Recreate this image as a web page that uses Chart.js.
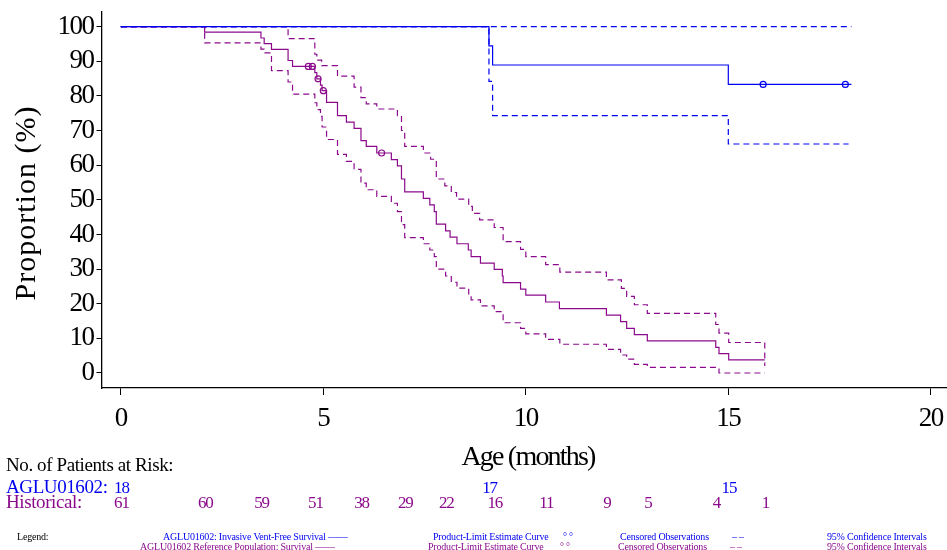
<!DOCTYPE html>
<html>
<head>
<meta charset="utf-8">
<script src="https://cdn.jsdelivr.net/npm/chart.js@4/dist/chart.umd.min.js"></script>
<style>
html,body{margin:0;padding:0;background:#fff;}
#wrap{width:947px;height:550px;}
</style>
</head>
<body>
<div id="wrap"><canvas id="km" width="947" height="550"></canvas></div>
<script>
// ---- data ----
const xTicks = [0, 5, 10, 15, 20];
const yTicks = [0, 10, 20, 30, 40, 50, 60, 70, 80, 90, 100];

// AGLU01602 (blue)
const aguTime = [0, 9.09, 9.18, 15.0, 18.04];
const aguSurv = [100, 94.4, 88.9, 83.3, 83.3];
const aguUpTime = [0, 18.04];
const aguUp = [100, 100];
const aguLoTime = [0, 9.09, 9.18, 15.0, 17.97];
const aguLo = [100, 84.2, 74.3, 66.1, 66.1];
const aguCensTime = [15.86, 17.89];
const aguCensSurv = [83.3, 83.3];

// Historical (purple)
const histTime = [0, 2.07, 3.46, 3.54, 3.72, 4.13, 4.24, 4.79, 4.84, 4.93, 4.97, 5.08, 5.35, 5.57, 5.76, 5.93,
    6.06, 6.32, 6.68, 6.83, 6.93, 7.01, 7.47, 7.63, 7.74, 7.79, 8.02, 8.13, 8.30, 8.58, 8.65, 8.88, 9.22, 9.42,
    9.44, 9.87, 10.0, 10.49, 10.83, 11.99, 12.34, 12.49, 12.68, 13.0, 14.69, 14.77, 15.01, 15.9];
const histSurv = [100, 98.4, 96.7, 95.1, 93.4, 90.2, 88.5, 86.7, 84.9, 83.1, 81.5, 78.1, 74.3, 72.4, 70.6, 67.1,
    65.4, 63.5, 61.6, 59.8, 56.0, 52.3, 50.4, 48.5, 46.6, 43.0, 41.0, 39.2, 37.3, 35.5, 33.6, 31.7, 29.9, 28.0,
    26.1, 24.2, 22.5, 20.5, 18.6, 16.7, 14.8, 12.9, 11.1, 9.3, 7.4, 5.6, 3.8, 3.8];
const histUpTime = [0, 4.13, 4.79, 4.84, 4.96, 5.35, 5.76, 5.93, 6.06, 6.32, 6.83, 6.93, 7.01, 7.47, 7.65, 7.79,
    8.0, 8.16, 8.29, 8.59, 8.68, 8.86, 9.22, 9.44, 9.87, 10.0, 10.49, 10.84, 11.99, 12.36, 12.49, 12.68, 13.0,
    14.69, 14.77, 15.01, 15.9, 15.9];
const histUp = [100, 96.5, 92.0, 90.3, 88.7, 85.7, 82.5, 79.5, 77.7, 76.2, 74.3, 70.0, 65.4, 63.5, 61.7, 56.0,
    54.0, 52.1, 50.2, 48.1, 46.1, 44.2, 42.0, 37.9, 35.7, 33.6, 31.3, 29.1, 26.9, 24.4, 22.1, 19.7, 17.2,
    14.0, 11.5, 8.8, 8.8, 2.0];
const histLoTime = [0, 2.07, 3.46, 3.54, 3.72, 4.13, 4.24, 4.79, 4.84, 4.93, 4.97, 5.08, 5.35, 5.57, 5.76, 5.93,
    6.06, 6.32, 6.68, 6.83, 6.93, 7.01, 7.47, 7.63, 7.74, 7.79, 8.02, 8.16, 8.30, 8.59, 8.65, 8.88, 9.22, 9.44,
    9.87, 10.0, 10.49, 10.84, 11.99, 12.34, 12.49, 12.68, 13.0, 14.77, 15.9];
const histLo = [100, 95.3, 93.5, 92.4, 87.3, 84.0, 80.5, 78.0, 76.0, 74.1, 71.0, 67.4, 63.1, 61.1, 58.8, 54.8,
    52.9, 51.0, 49.0, 46.6, 42.8, 39.1, 37.3, 35.5, 33.6, 30.0, 28.0, 26.2, 24.5, 22.8, 21.1, 19.4, 17.7, 14.5,
    12.9, 11.3, 9.7, 8.3, 6.8, 5.2, 4.0, 2.5, 1.6, 0, 0];
const histCensTime = [4.63, 4.73, 4.87, 5.0, 6.44];
const histCensSurv = [88.5, 88.5, 84.9, 81.5, 63.5];

// patients at risk
const aguRiskTime = [0, 9.09, 15.0];
const aguRisk = [18, 17, 15];
const histRiskTime = [0, 2.07, 3.46, 4.79, 5.93, 7.01, 8.02, 9.22, 10.49, 11.99, 13.0, 14.69, 15.9];
const histRisk = [61, 60, 59, 51, 38, 29, 22, 16, 11, 9, 5, 4, 1];

const BLUE = '#0000f0';
const PURPLE = '#8b0a8b';
const SERIF = '"Liberation Serif", "Times New Roman", serif';

function pts(xs, ys){
    return xs.map((x, i) => ({x: x, y: ys[i]}));
}

function stepLine(xs, ys, color, dashed){
    return {
        type: 'line',
        data: pts(xs, ys),
        borderColor: color,
        borderWidth: 1.2,
        borderDash: dashed ? [6, 4] : [],
        stepped: true,
        pointRadius: 0,
        fill: false
    };
}

function censored(xs, ys, color){
    return {
        type: 'scatter',
        data: pts(xs, ys),
        borderColor: color,
        backgroundColor: 'rgba(0,0,0,0)',
        borderWidth: 1.2,
        pointRadius: 3,
        pointStyle: 'circle'
    };
}

// no automatic label padding, the plot area is fixed like the original
function noPad(s){
    s.paddingTop = 0;
    s.paddingBottom = 0;
    s.paddingLeft = 0;
    s.paddingRight = 0;
}

const textPlugin = {
    id: 'kmText',
    beforeDraw(chart){
        chart.ctx.letterSpacing = '-1.5px';
    },
    afterDraw(chart){
        const ctx = chart.ctx;
        const xs = chart.scales.x;
        ctx.save();
        ctx.textBaseline = 'alphabetic';

        // y axis title
        ctx.save();
        ctx.letterSpacing = '1px';
        ctx.translate(35, 203);
        ctx.rotate(-Math.PI / 2);
        ctx.textAlign = 'center';
        ctx.fillStyle = '#000';
        ctx.font = '30px ' + SERIF;
        ctx.fillText('Proportion (%)', 0, 0);
        ctx.restore();

        // x axis title
        ctx.letterSpacing = '-1.8px';
        ctx.textAlign = 'center';
        ctx.fillStyle = '#000';
        ctx.font = '28px ' + SERIF;
        ctx.fillText('Age (months)', 528, 465);

        // risk table
        ctx.textAlign = 'left';
        ctx.letterSpacing = '-0.4px';
        ctx.font = '19px ' + SERIF;
        ctx.fillText('No. of Patients at Risk:', 6, 471);
        ctx.fillStyle = BLUE;
        ctx.fillText('AGLU01602:', 6, 493);
        ctx.fillStyle = PURPLE;
        ctx.fillText('Historical:', 6, 508);

        ctx.textAlign = 'center';
        ctx.letterSpacing = '-1.2px';
        ctx.font = '17px ' + SERIF;
        ctx.fillStyle = BLUE;
        aguRisk.forEach((n, i) => ctx.fillText(String(n), xs.getPixelForValue(aguRiskTime[i]) + 0.6, 493));
        ctx.fillStyle = PURPLE;
        histRisk.forEach((n, i) => ctx.fillText(String(n), xs.getPixelForValue(histRiskTime[i]) + 0.6, 508));

        // legend rows
        ctx.textAlign = 'left';
        ctx.letterSpacing = '-0.2px';
        ctx.font = '10px ' + SERIF;
        ctx.fillStyle = '#000';
        ctx.fillText('Legend:', 17, 540);
        ctx.fillStyle = BLUE;
        ctx.fillText('AGLU01602: Invasive Vent-Free Survival \u2014\u2014', 163, 540);
        ctx.fillText('Product-Limit Estimate Curve', 433, 540);
        ctx.fillText('\u00b0 \u00b0', 563, 540);
        ctx.fillText('Censored Observations', 620, 540);
        ctx.fillText('\u2013 \u2013', 732, 540);
        ctx.fillText('95% Confidence Intervals', 827, 540);
        ctx.fillStyle = PURPLE;
        ctx.fillText('AGLU01602 Reference Population: Survival \u2014\u2014', 140, 550);
        ctx.fillText('Product-Limit Estimate Curve', 428, 550);
        ctx.fillText('\u00b0 \u00b0', 560, 550);
        ctx.fillText('Censored Observations', 618, 550);
        ctx.fillText('\u2013 \u2013', 730, 550);
        ctx.fillText('95% Confidence Intervals', 827, 550);
        ctx.restore();
    }
};

Chart.defaults.font.family = SERIF;
Chart.defaults.color = '#000';

new Chart(document.getElementById('km'), {
    type: 'line',
    data: {
        datasets: [
            stepLine(aguUpTime, aguUp, BLUE, true),
            stepLine(aguLoTime, aguLo, BLUE, true),
            stepLine(aguTime, aguSurv, BLUE, false),
            censored(aguCensTime, aguCensSurv, BLUE),
            stepLine(histUpTime, histUp, PURPLE, true),
            stepLine(histLoTime, histLo, PURPLE, true),
            stepLine(histTime, histSurv, PURPLE, false),
            censored(histCensTime, histCensSurv, PURPLE)
        ]
    },
    options: {
        responsive: false,
        animation: false,
        devicePixelRatio: 1,
        layout: {autoPadding: false, padding: {top: 12, right: 0, bottom: 0, left: 0}},
        plugins: {legend: {display: false}, tooltip: {enabled: false}},
        scales: {
            x: {
                type: 'linear',
                min: -0.477,
                max: 20.4,
                afterBuildTicks: s => { s.ticks = xTicks.map(v => ({value: v})); },
                afterFit: s => { s.height = 162; noPad(s); },
                grid: {drawOnChartArea: false, drawTicks: true, tickLength: 7, color: '#000', lineWidth: 1},
                border: {display: true, color: '#000', width: 1.3},
                ticks: {font: {size: 27}, color: '#000', padding: 8, maxRotation: 0, autoSkip: false}
            },
            y: {
                type: 'linear',
                min: -4.33,
                max: 104.2,
                afterBuildTicks: s => { s.ticks = yTicks.map(v => ({value: v})); },
                afterFit: s => { s.width = 101.5; noPad(s); },
                grid: {drawOnChartArea: false, drawTicks: true, tickLength: 5, color: '#000', lineWidth: 1},
                border: {display: true, color: '#000', width: 1.3},
                ticks: {font: {size: 27}, color: '#000', padding: 3, autoSkip: false}
            }
        }
    },
    plugins: [textPlugin]
});
</script>
</body>
</html>
